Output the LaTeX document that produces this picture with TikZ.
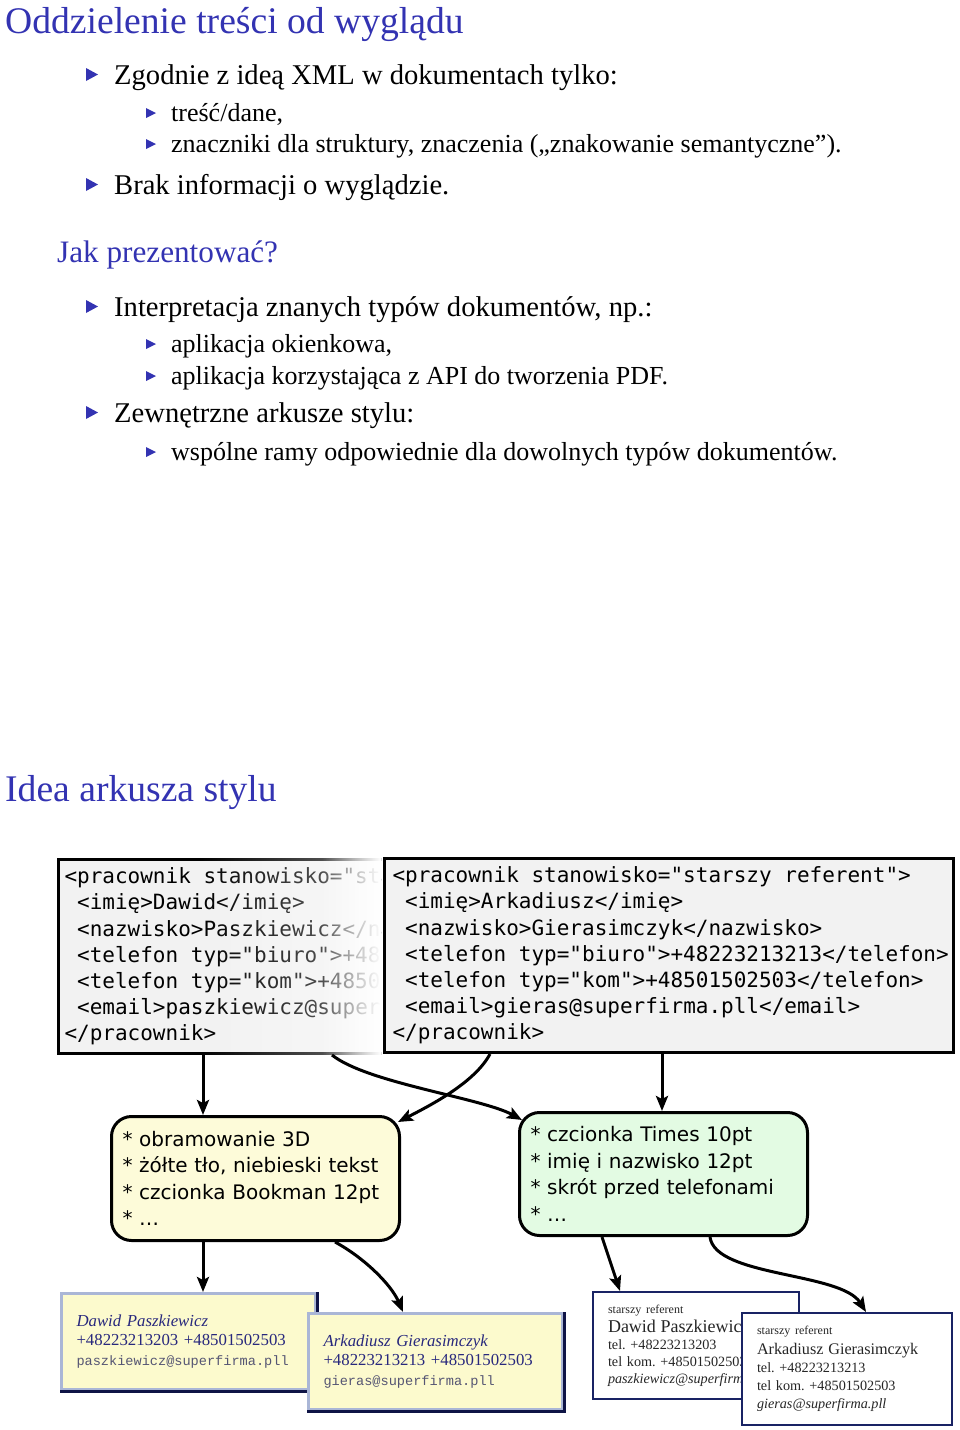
\documentclass[tikz,border=0pt]{standalone}
\usepackage{fontspec}
\setmainfont{Liberation Serif}
\setmonofont{DejaVu Sans Mono}
\newfontfamily\boxfont{DejaVu Sans}
\newfontfamily\mailfont{Liberation Mono}
\definecolor{beamerblue}{RGB}{51, 51, 178}
\definecolor{yellowbox}{RGB}{253, 251, 217}
\definecolor{greenbox}{RGB}{227, 251, 227}
\definecolor{cardyellow}{RGB}{252, 250, 205}
\definecolor{bevellight}{RGB}{170, 182, 214}
\definecolor{beveldark}{RGB}{15, 20, 70}
\definecolor{cardnavy}{RGB}{40, 40, 125}
\definecolor{cardmail}{RGB}{85, 85, 115}
\definecolor{cardborder}{RGB}{25, 35, 100}
\usetikzlibrary{arrows.meta, fadings}
\tikzfading[name=fade in right, left color=transparent!100, right color=transparent!0]
\newcommand{\ind}{\hphantom{x}}
\newcommand{\xmlfont}{\ttfamily\fontsize{21}{26.2}\selectfont\spaceskip=12.64pt\relax}
\frenchspacing

\begin{document}
\begin{tikzpicture}[x=1pt, y=-1pt,
    frametitle/.style={anchor=base west, inner sep=0pt, text=beamerblue,
                       font=\fontsize{37.6}{42}\selectfont},
    blocktitle/.style={anchor=base west, inner sep=0pt, text=beamerblue,
                       font=\fontsize{31.2}{36}\selectfont},
    item/.style={anchor=base west, inner sep=0pt, font=\fontsize{28.6}{32}\selectfont},
    subitem/.style={anchor=base west, inner sep=0pt, font=\fontsize{26}{30}\selectfont},
    xmlbox/.style={draw, line width=3pt, fill=gray!10, anchor=north west,
                   minimum height=194pt, inner xsep=8pt, align=left, font=\xmlfont},
    stylebox/.style={draw, line width=3pt, rounded corners=20pt, anchor=north west,
                     minimum height=124pt, inner xsep=11pt, text width=266pt, align=left,
                     font=\boxfont\fontsize{20}{26.5}\selectfont},
    card/.style={draw=bevellight, line width=3pt, fill=cardyellow, anchor=north west,
                 minimum width=254pt, minimum height=96pt, inner xsep=15pt,
                 text width=224pt, align=left, text=cardnavy,
                 font=\fontsize{16.8}{19.5}\selectfont},
    bevel/.style={draw=beveldark, line width=3pt},
    namecard/.style={draw=cardborder, line width=2pt, fill=white, anchor=north west,
                     inner xsep=15pt, align=left, text=black!85,
                     font=\fontsize{14.2}{17}\selectfont},
    arr/.style={-{Stealth[length=15pt, width=12pt, inset=3pt]}, line width=3pt}
  ]
    \useasboundingbox (0,0) rectangle (960,1430);

    \node[frametitle] (title1) at (5,33) {Oddzielenie treści od wyglądu};
    \node[item] (zgodnie) at (114,84) {Zgodnie z ideą XML w dokumentach tylko:};
    \node[subitem] (tresc) at (171,121) {treść/dane,};
    \node[subitem] (znaczniki) at (171,152)
      {znaczniki dla struktury, znaczenia („znakowanie semantyczne”).};
    \node[item] (brak) at (114,194) {Brak informacji o wyglądzie.};
    \node[blocktitle] (jak) at (57,262) {Jak prezentować?};
    \node[item] (interp) at (114,316) {Interpretacja znanych typów dokumentów, np.:};
    \node[subitem] (okienkowa) at (171,352) {aplikacja okienkowa,};
    \node[subitem] (pdf) at (171,384) {aplikacja korzystająca z API do tworzenia PDF.};
    \node[item] (zewn) at (114,422) {Zewnętrzne arkusze stylu:};
    \node[subitem] (ramy) at (171,460)
      {wspólne ramy odpowiednie dla dowolnych typów dokumentów.};
    \foreach \n in {zgodnie, brak, interp, zewn}
      \fill[beamerblue] ([shift={(-28,-16)}]\n.base west) -- ++(0,13) -- ++(12,-6.5) -- cycle;
    \foreach \n in {tresc, znaczniki, okienkowa, pdf, ramy}
      \fill[beamerblue] ([shift={(-25,-13)}]\n.base west) -- ++(0,10) -- ++(10,-5) -- cycle;

    \node[frametitle] (title2) at (5,801) {Idea arkusza stylu};

    \begin{scope}
      \clip (50,850) rectangle (381,1060);
      \node[xmlbox, inner xsep=6pt] (xmlA) at (57,858)
        {<pracownik stanowisko="starszy referent">\\
         \ind<imię>Dawid</imię>\\
         \ind<nazwisko>Paszkiewicz</nazwisko>\\
         \ind<telefon typ="biuro">+48223213203</telefon>\\
         \ind<telefon typ="kom">+48501502503</telefon>\\
         \ind<email>paszkiewicz@superfirma.pll</email>\\
         </pracownik>};
    \end{scope}
    \fill[white, opacity=0.45, path fading=fade in right] (200,850) rectangle (381,1060);
    \fill[white, path fading=fade in right] (322,850) rectangle (381,1060);
    \node[xmlbox, text width=553pt] (xmlB) at (383,857)
      {\xmlfont <pracownik stanowisko="starszy referent">\\
       \ind<imię>Arkadiusz</imię>\\
       \ind<nazwisko>Gierasimczyk</nazwisko>\\
       \ind<telefon typ="biuro">+48223213213</telefon>\\
       \ind<telefon typ="kom">+48501502503</telefon>\\
       \ind<email>gieras@superfirma.pll</email>\\
       </pracownik>};

    \node[stylebox, fill=yellowbox] (styleA) at (110,1115)
      {* obramowanie 3D\\{}* żółte tło, niebieski tekst\\{}* czcionka Bookman 12pt\\{}* …};
    \node[stylebox, fill=greenbox, minimum height=123pt] (styleB) at (518,1111)
      {* czcionka Times 10pt\\{}* imię i nazwisko 12pt\\{}* skrót przed telefonami\\{}* …};

    \node[card] (cardA) at (60,1292)
      {{\itshape Dawid Paszkiewicz}\\
       +48223213203 +48501502503\\
       {\mailfont\fontsize{13.6}{19.5}\selectfont\color{cardmail}paszkiewicz@superfirma.pll}};
    \draw[bevel] (cardA.south west) -| (cardA.north east);
    \node[card] (cardB) at (307,1312)
      {{\itshape Arkadiusz Gierasimczyk}\\
       +48223213213 +48501502503\\
       {\mailfont\fontsize{13.6}{19.5}\selectfont\color{cardmail}gieras@superfirma.pll}};
    \draw[bevel] (cardB.south west) -| (cardB.north east);

    \node[namecard, minimum width=206pt, minimum height=107pt, text width=176pt] (cardC) at (592,1291)
      {{\fontsize{12}{17}\selectfont starszy referent}\\[2pt]
       {\fontsize{18}{17}\selectfont Dawid Paszkiewicz}\\
       tel. +48223213203\\
       tel kom. +48501502503\\
       {\itshape paszkiewicz@superfirma.pll}};
    \node[namecard, minimum width=210pt, minimum height=112pt, text width=180pt,
          font=\fontsize{14.2}{18}\selectfont] (cardD) at (741,1312)
      {{\fontsize{12}{18}\selectfont starszy referent}\\[2pt]
       {\fontsize{16.2}{18}\selectfont Arkadiusz Gierasimczyk}\\
       tel. +48223213213\\
       tel kom. +48501502503\\
       {\itshape gieras@superfirma.pll}};

    \draw[arr] ([xshift=146pt]xmlA.south west) -- ([xshift=93pt]styleA.north west);
    \draw[arr] ([xshift=279pt]xmlB.south west) -- ([xshift=279pt]xmlB.south west |- styleB.north);
    \draw[arr] ([xshift=275pt]xmlA.south west) .. controls +(35,28) and +(-40,-22) ..
      ([xshift=4pt, yshift=-9pt]styleB.north west);
    \draw[arr] ([xshift=107pt]xmlB.south west) .. controls +(-15,28) and +(35,-18) ..
      ([xshift=-3pt, yshift=-7pt]styleA.north east);
    \draw[arr] ([xshift=93pt]styleA.south west) -- ([xshift=93pt]styleA.south west |- cardA.north);
    \draw[arr] ([xshift=225pt]styleA.south west) .. controls +(28,15) and +(-12,-28) ..
      ([xshift=96pt]cardB.north west);
    \draw[arr] ([xshift=84pt]styleB.south west) -- ([xshift=28pt]cardC.north west);
    \draw[arr] ([xshift=192pt]styleB.south west) .. controls +(5,40) and +(-25,-40) ..
      ([xshift=125pt]cardD.north west);
  \end{tikzpicture}
\end{document}
